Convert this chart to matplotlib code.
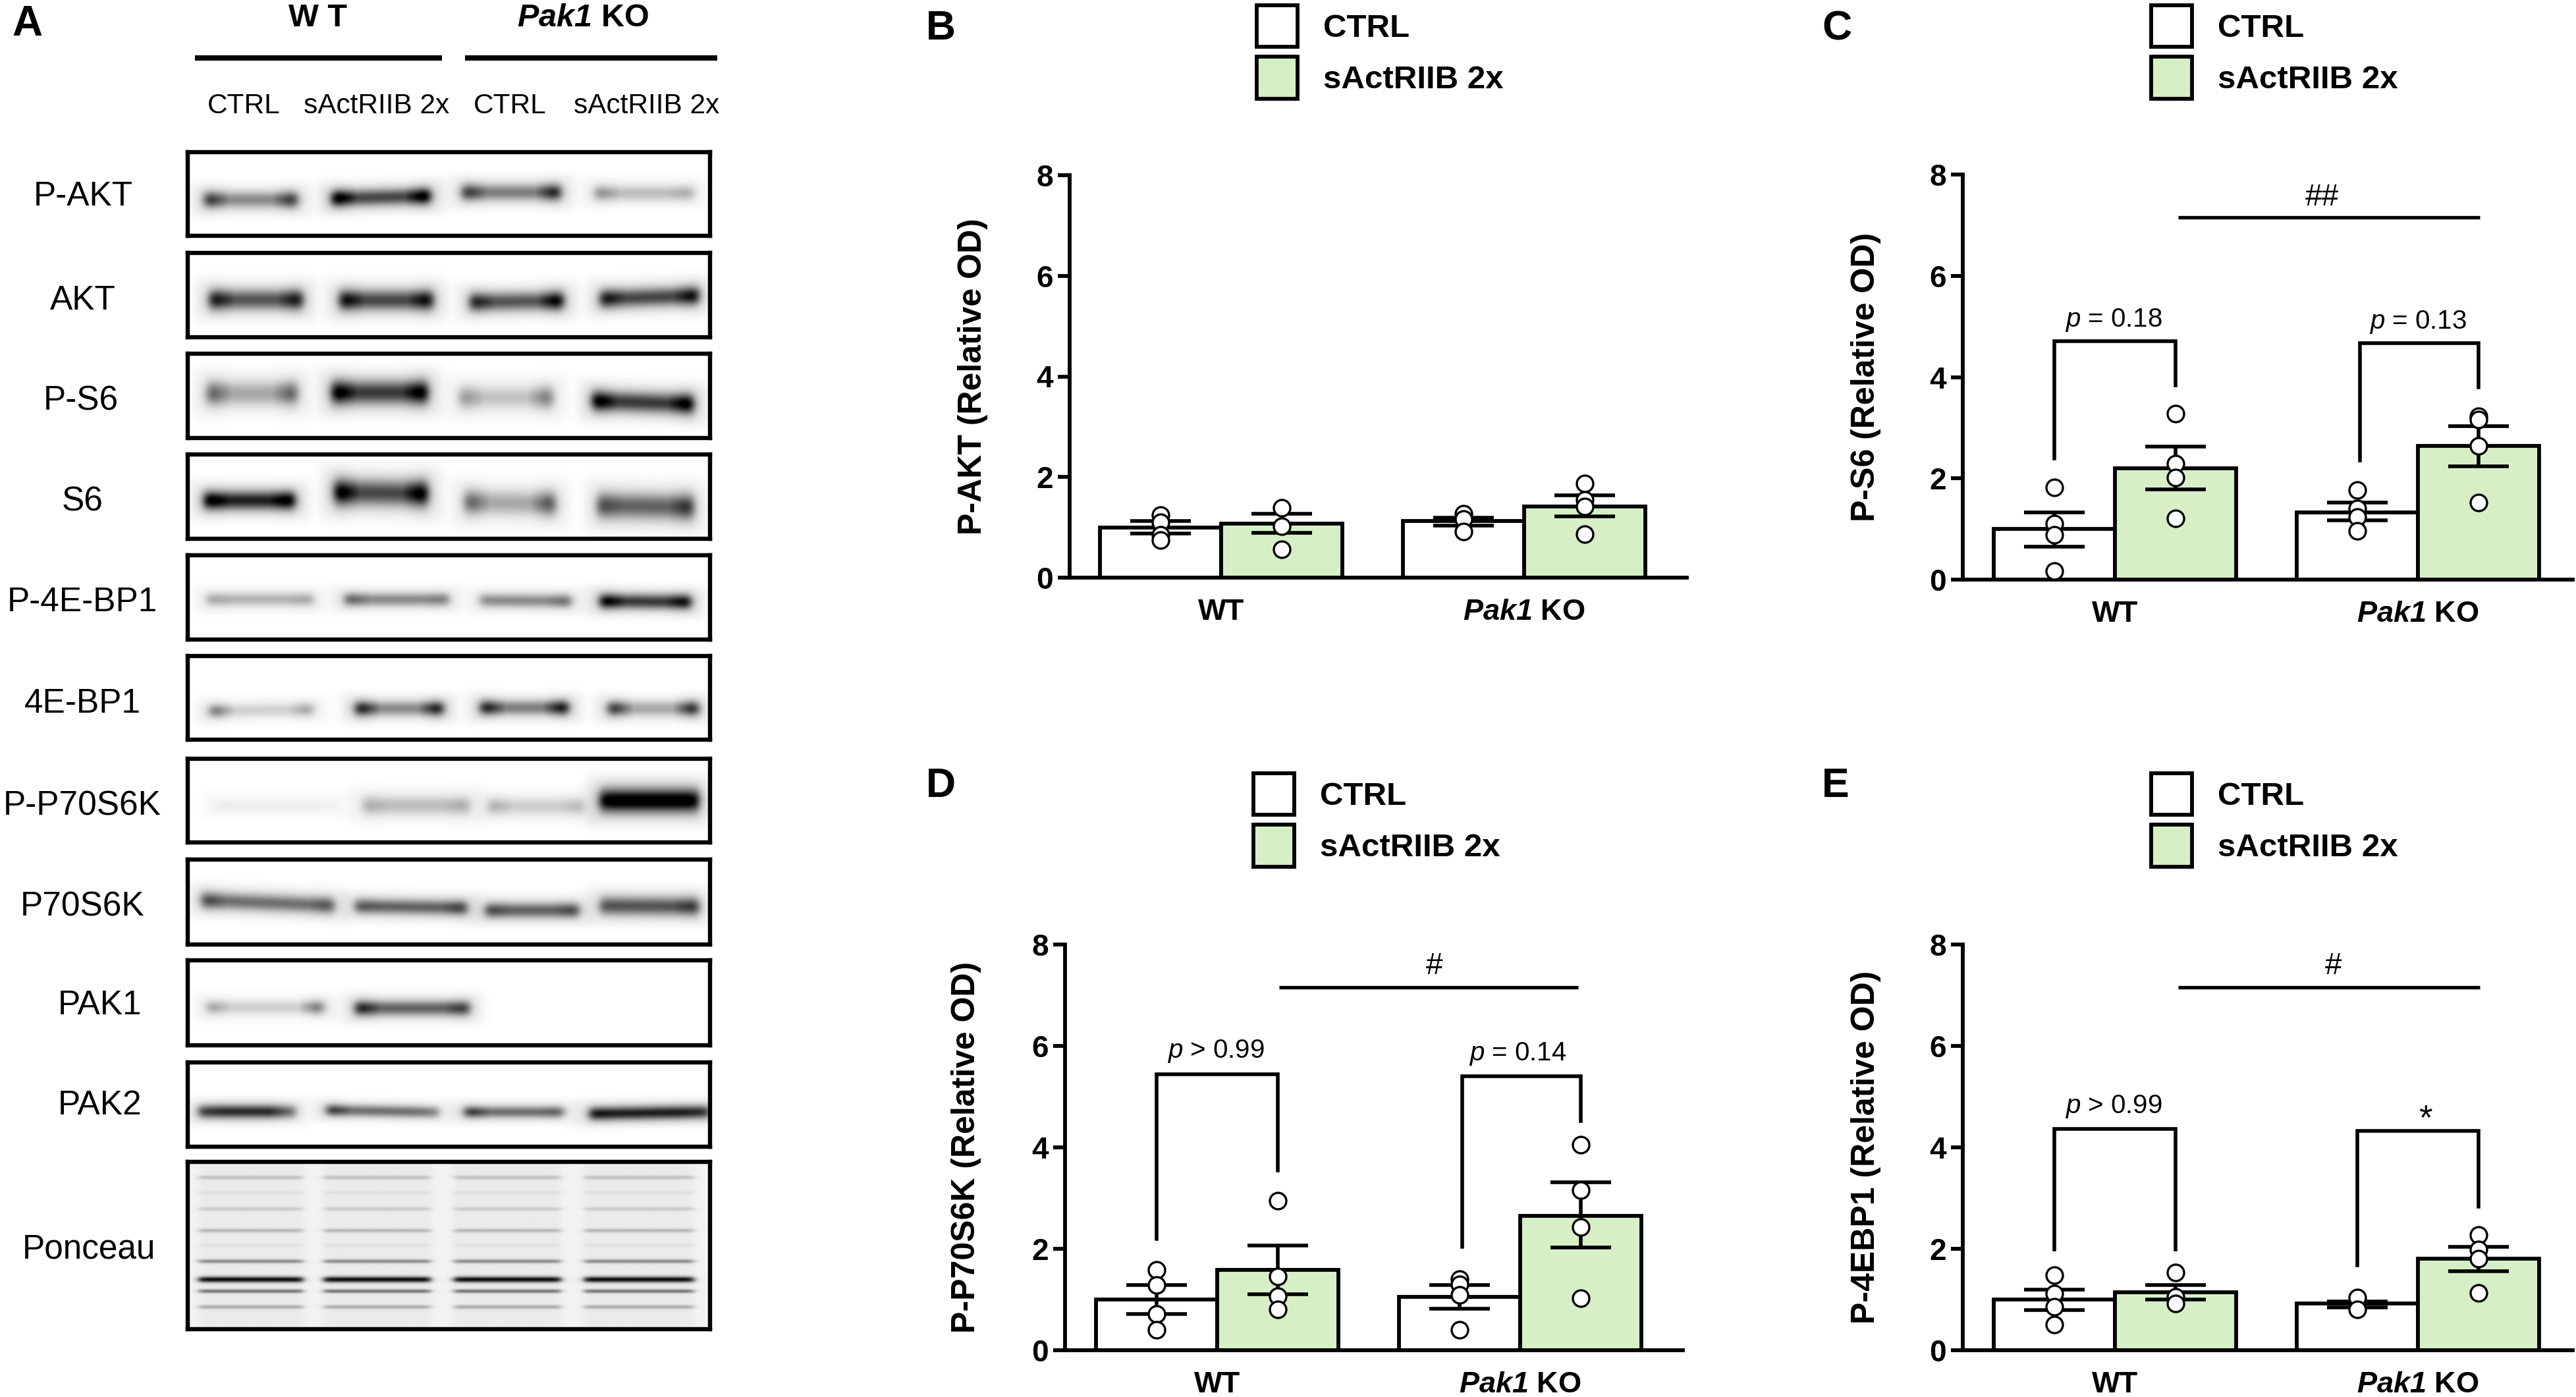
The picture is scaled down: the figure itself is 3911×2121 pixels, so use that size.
import numpy as np
import matplotlib
matplotlib.use('Agg')
import matplotlib.pyplot as plt

plt.rcParams['font.family'] = ['Liberation Sans', 'DejaVu Sans']
plt.rcParams['mathtext.fontset'] = 'custom'
plt.rcParams['mathtext.it'] = 'Liberation Sans:italic'
plt.rcParams['mathtext.bfit'] = 'Liberation Sans:italic:bold'
plt.rcParams['mathtext.rm'] = 'Liberation Sans'
plt.rcParams['mathtext.default'] = 'regular'

W, H = 3911, 2121
GREEN = '#d7efc7'

# ---- bar data, order: WT ctrl, WT sAct, KO ctrl, KO sAct
xpos = [0, 1, 2.5, 3.5]
groups = ['WT', r'$\mathbfit{Pak1}$ KO']
series = ['CTRL', 'sActRIIB 2x']

b_mean = [1.0, 1.08, 1.12, 1.42]
b_hi = [1.125, 1.27, 1.19, 1.64]
b_lo = [0.875, 0.89, 1.04, 1.22]
b_pts = [[1.25, 1.1, 0.85, 0.75], [1.39, 1.02, 0.56], [1.27, 1.17, 0.92], [1.87, 1.54, 1.42, 0.86]]

c_mean = [1.0, 2.2, 1.33, 2.64]
c_hi = [1.33, 2.63, 1.52, 3.03]
c_lo = [0.65, 1.78, 1.17, 2.24]
c_pts = [[1.82, 1.10, 0.88, 0.17], [3.28, 2.29, 2.01, 1.21], [1.77, 1.41, 1.23, 0.96], [3.22, 3.16, 2.64, 1.52]]

d_mean = [1.0, 1.58, 1.05, 2.65]
d_hi = [1.28, 2.06, 1.29, 3.31]
d_lo = [0.72, 1.10, 0.82, 2.03]
d_pts = [[1.58, 1.28, 0.72, 0.40], [2.95, 1.46, 1.06, 0.80], [1.40, 1.30, 1.09, 0.40], [4.05, 3.15, 2.43, 1.02]]

e_mean = [1.0, 1.14, 0.92, 1.80]
e_hi = [1.20, 1.29, 0.96, 2.04]
e_lo = [0.79, 1.0, 0.84, 1.56]
e_pts = [[1.48, 1.12, 0.86, 0.51], [1.53, 1.05, 0.92], [1.04, 0.80], [2.27, 1.99, 1.80, 1.13]]

# brackets: x0, x1, top, left foot, right foot
c_brackets = [(0, 1, 4.71, 2.39, 3.84), (2.52, 3.5, 4.67, 2.36, 3.80)]
d_brackets = [(0, 1, 5.44, 2.19, 3.55), (2.52, 3.5, 5.40, 2.04, 4.52)]
e_brackets = [(0, 1, 4.36, 1.99, 1.99), (2.5, 3.5, 4.32, 1.68, 2.83)]
# notes: text, x, y
c_notes = [(r'$\mathit{p}$ = 0.18', 0.49, 5.12), (r'$\mathit{p}$ = 0.13', 3.0, 5.09), ('##', 2.21, 7.55)]
d_notes = [(r'$\mathit{p}$ > 0.99', 0.49, 5.90), (r'$\mathit{p}$ = 0.14', 2.98, 5.84), ('#', 2.29, 7.57)]
e_notes = [(r'$\mathit{p}$ > 0.99', 0.49, 4.80), ('*', 3.06, 4.55), ('#', 2.30, 7.57)]
# long line: x0, x1, y
c_line = (1.02, 3.51, 7.16)
d_line = (1.01, 3.48, 7.15)
e_line = (1.02, 3.51, 7.15)

# ---- blots: x0, x1 (fraction of box), y, sigma, dark left, mid, right, tilt
blot_names = ['P-AKT', 'AKT', 'P-S6', 'S6', 'P-4E-BP1', '4E-BP1', 'P-P70S6K', 'P70S6K', 'PAK1', 'PAK2']
blot_p_akt = [(.03, .21, .57, .10, .70, .40, .70, 0), (.275, .465, .54, .10, 1, .65, 1, -.15),
              (.525, .715, .48, .10, .70, .45, .80, 0), (.78, .97, .49, .09, .38, .22, .28, 0)]
blot_akt = [(.04, .22, .56, .12, .85, .60, .85, 0), (.29, .47, .565, .12, .90, .65, .90, 0),
            (.54, .72, .58, .11, .80, .60, .95, -.1), (.79, .98, .53, .11, .85, .65, .90, -.2)]
blot_p_s6 = [(.035, .21, .47, .14, .55, .30, .55, 0), (.275, .46, .46, .14, 1, .70, 1, 0),
             (.52, .70, .52, .13, .35, .20, .45, 0), (.775, .97, .58, .12, 1, .70, 1, .2)]
blot_s6 = [(.03, .205, .55, .11, 1, .80, 1, 0), (.28, .46, .46, .15, 1, .65, 1, .1),
           (.53, .705, .58, .14, .55, .30, .60, .1), (.785, .97, .62, .15, .65, .55, .75, .1)]
blot_p4e = [(.035, .24, .525, .08, .30, .25, .30, 0), (.30, .50, .525, .08, .55, .40, .45, 0),
            (.56, .735, .54, .08, .40, .40, .50, .05), (.79, .965, .55, .09, .95, .70, .90, .05)]
blot_4e = [(.04, .24, .65, .08, .45, .15, .30, -.1), (.32, .49, .63, .09, .80, .40, .80, 0),
           (.56, .73, .62, .09, .80, .45, .85, 0), (.805, .98, .63, .09, .70, .30, .75, 0)]
blot_p70p = [(.05, .29, .56, .08, .05, .04, .03, 0), (.335, .54, .56, .11, .28, .22, .28, 0),
             (.575, .76, .57, .10, .26, .16, .22, 0), (.79, .98, .50, .14, 1, 1, 1, 0)]
blot_p70 = [(.025, .28, .51, .10, .65, .50, .60, .25), (.32, .535, .56, .09, .60, .55, .68, .1),
            (.57, .75, .60, .09, .65, .55, .65, 0), (.79, .98, .55, .11, .62, .60, .72, .05)]
blot_pak1 = [(.035, .26, .555, .08, .30, .15, .45, 0), (.32, .54, .565, .09, .80, .55, .70, 0)]
blot_pak2 = [(.02, .205, .585, .08, .70, .75, .55, 0), (.265, .48, .58, .07, .70, .50, .45, .12),
             (.53, .72, .59, .07, .70, .50, .55, 0), (.77, 1.0, .60, .08, .85, .80, .75, -.1)]
blot_rows = [blot_p_akt, blot_akt, blot_p_s6, blot_s6, blot_p4e, blot_4e, blot_p70p, blot_p70, blot_pak1, blot_pak2]

ponceau_lanes = [(.02, .22), (.26, .465), (.51, .715), (.76, .97)]
ponceau_y = [.09, .18, .28, .41, .50, .595, .705, .775, .87]
ponceau_dark = [.20, .06, .15, .25, .05, .45, 1.0, .55, .30]

# pixel geometry
blot_top = [231, 384, 537, 690, 843, 996, 1152, 1305, 1458, 1613, 1764]
blot_h = [127, 128, 128, 128, 128, 127, 127, 129, 129, 128, 254]
label_xy = [(126, 299), (126, 456), (123, 609), (125, 762), (125, 914), (125, 1069), (125, 1224),
            (125, 1377), (151, 1527), (152, 1679), (135, 1897)]


def px(x, y):
    return x / W, 1 - y / H


def make_blot(bands, w=400, h=64):
    xx, yy = np.meshgrid(np.linspace(0, 1, w), np.linspace(0, 1, h))
    img = np.ones((h, w))
    for x0, x1, y, s, dl, dm, dr, tilt in bands:
        mid = (x0 + x1) / 2
        window = 0.5 * (np.tanh((xx - x0) / 0.01) - np.tanh((xx - x1) / 0.01))
        dark = np.interp(xx, [x0 + .015, x0 + .05, x1 - .05, x1 - .015], [dl, dm, dm, dr])
        yc = y + tilt * (xx - mid)
        core = np.exp(-((yy - yc) / s) ** 2)
        halo = np.exp(-((yy - yc) / (s * 2.2)) ** 4)
        halo_win = 0.5 * (np.tanh((xx - x0 + .025) / 0.012) - np.tanh((xx - x1 - .025) / 0.012))
        img -= dark * window * core + halo_win * halo * (0.02 + 0.08 * dark)
    return np.clip(img, 0, 1)


def make_ponceau(w=400, h=128):
    xx, yy = np.meshgrid(np.linspace(0, 1, w), np.linspace(0, 1, h))
    img = np.full((h, w), 0.95)
    for x0, x1 in ponceau_lanes:
        window = 0.5 * (np.tanh((xx - x0) / 0.008) - np.tanh((xx - x1) / 0.008))
        for y, d in zip(ponceau_y, ponceau_dark):
            s = 0.011 if d < 1 else 0.017
            img -= 0.9 * d * window * np.exp(-((yy - y) / s) ** 2)
        img -= 0.03 * window
    return np.clip(img, 0, 1)


fig = plt.figure(figsize=(W / 100, H / 100), dpi=100, facecolor='white')

# ---- panel A
fig.text(*px(18, 37), 'A', fontsize=46, fontweight='bold', ha='left', va='center')
images = [make_blot(b) for b in blot_rows] + [make_ponceau()]
names = blot_names + ['Ponceau']
for img, top, hh, name, (lx, ly) in zip(images, blot_top, blot_h, names, label_xy):
    l, b = px(285, top + hh)
    ax = fig.add_axes([l, b, 793 / W, hh / H])
    ax.imshow(img, cmap='gray', vmin=0, vmax=1, aspect='auto', interpolation='bilinear')
    ax.set_xticks([])
    ax.set_yticks([])
    for s in ax.spines.values():
        s.set_linewidth(4.6)
    fig.text(*px(lx, ly), name, fontsize=37, ha='center', va='center')

for x0, x1 in [(296, 671), (706, 1089)]:
    fig.add_artist(plt.Line2D([x0 / W, x1 / W], [1 - 88 / H] * 2, color='k', lw=5.8, solid_capstyle='butt'))
fig.text(*px(483, 28), 'W T', fontsize=35, fontweight='bold', ha='center', va='center')
fig.text(*px(885, 28), r'$\mathbfit{Pak1}$ KO', fontsize=35, fontweight='bold', ha='center', va='center')
for cx, t in zip([370, 572, 774, 982], ['CTRL', 'sActRIIB 2x', 'CTRL', 'sActRIIB 2x']):
    fig.text(*px(cx, 161), t, fontsize=30.5, ha='center', va='center')


def panel(letter, lxy, left, first_bar, top, bottom, right, ylabel, lab_x, means, hi, lo, pts,
          leg_xy, brackets=(), notes=(), line=None):
    unit = 184.0
    l, b = px(left, bottom)
    ax = fig.add_axes([l, b, (right - left) / W, (bottom - top) / H])
    ax.patch.set_alpha(0)
    x_min = -0.5 - (first_bar - left) / unit
    ax.set_xlim(x_min, x_min + (right - left) / unit)
    ax.set_ylim(0, 8)
    for s in ['top', 'right']:
        ax.spines[s].set_visible(False)
    for s in ['left', 'bottom']:
        ax.spines[s].set_linewidth(4.2)
    colors = ['white', GREEN, 'white', GREEN]
    ax.bar(xpos, means, width=1.0, color=colors, edgecolor='k', linewidth=4.2, zorder=2)
    ax.errorbar(xpos, means, yerr=[np.array(means) - np.array(lo), np.array(hi) - np.array(means)], fmt='none',
                ecolor='k', elinewidth=4.0, capsize=33, capthick=4.0, zorder=3)
    for x, vals in zip(xpos, pts):
        ax.plot([x] * len(vals), vals, 'o', ms=18, mfc='white', mec='k', mew=2.4, zorder=4, clip_on=False)
    ax.set_yticks([0, 2, 4, 6, 8])
    ax.set_xticks([0.5, 3.0])
    ax.set_xticklabels(groups, fontweight='bold', fontsize=32.5)
    ax.tick_params(axis='x', length=0, pad=23)
    ax.tick_params(axis='y', length=13, width=4.2, pad=5, labelsize=33)
    plt.setp(ax.get_yticklabels(), fontweight='bold')
    for x0, x1, t, f0, f1 in brackets:
        ax.plot([x0, x0, x1, x1], [f0, t, t, f1], color='k', lw=4.0, solid_joinstyle='miter', zorder=3)
    for t, x, y in notes:
        size = 29 if 'p' in t else (38 if t == '*' else 33)
        ax.text(x, y, t, fontsize=size, ha='center', va='center')
    if line:
        ax.plot(line[:2], [line[2]] * 2, color='k', lw=3.8, solid_capstyle='butt')
    fig.text(*px(*lxy), letter, fontsize=45, fontweight='bold', ha='left', va='center')
    fig.text(*px(lab_x, (top + bottom) / 2), ylabel, fontsize=36, fontweight='bold', rotation=90,
             ha='center', va='center')
    # legend
    handles = [plt.Rectangle((0, 0), 1, 1, fc=c, ec='k', lw=4.2) for c in ['white', GREEN]]
    fig.legend(handles, series, loc='upper left', bbox_to_anchor=px(*leg_xy), frameon=False, borderpad=0,
               borderaxespad=0, handlelength=1.25, handleheight=1.6, labelspacing=0.3,
               handletextpad=0.8, prop={'weight': 'bold', 'size': 35.5})
    return ax


panel('B', (1406, 44), 1624, 1670, 266, 877, 2561, 'P-AKT (Relative OD)', 1477,
      b_mean, b_hi, b_lo, b_pts, (1908, 8))
panel('C', (2766, 44), 2980, 3027, 265, 880, 3906, 'P-S6 (Relative OD)', 2833,
      c_mean, c_hi, c_lo, c_pts, (3266, 8), c_brackets, c_notes, c_line)
panel('D', (1406, 1193), 1617, 1664, 1434, 2050, 2555, 'P-P70S6K (Relative OD)', 1467,
      d_mean, d_hi, d_lo, d_pts, (1903, 1174), d_brackets, d_notes, d_line)
panel('E', (2766, 1193), 2980, 3027, 1434, 2050, 3906, 'P-4EBP1 (Relative OD)', 2833,
      e_mean, e_hi, e_lo, e_pts, (3266, 1174), e_brackets, e_notes, e_line)

fig.savefig('out.png', dpi=100)
